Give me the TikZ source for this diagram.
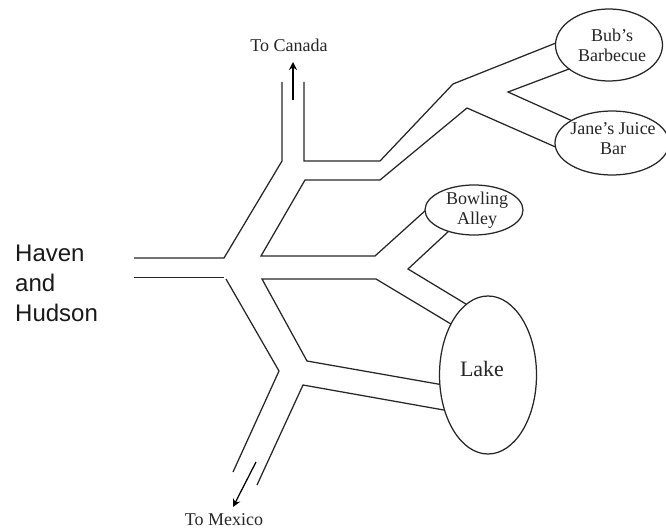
\documentclass[tikz,border=0pt]{standalone}
\usepackage{fontspec}
\setmainfont{Liberation Serif}
\newfontfamily\armain{Liberation Sans}
\usetikzlibrary{shapes.geometric,arrows.meta}
\tikzset{
  road/.style={draw=black!85,line width=1.25pt,line join=miter},
  place/.style={draw=black!85,line width=1.25pt,shape=ellipse,inner sep=0pt,outer sep=0pt},
  dirarrow/.style={draw=black,line width=1.25pt,-{Stealth[length=8pt,width=8pt]}},
  serifl/.style={font=\fontsize{18}{20}\selectfont,align=center,text=black!85,inner sep=0pt},
  havenl/.style={font=\armain\fontsize{24}{30}\selectfont,align=left,text=black!90,inner sep=0pt,anchor=west}
}
\begin{document}
\begin{tikzpicture}[x=1pt,y=-1pt]
\useasboundingbox (0,0) rectangle (666,529);
% places
\node[place,minimum width=107pt,minimum height=72pt] (bub) at (609,45) {};
\node[place,minimum width=114pt,minimum height=64pt] (jane) at (612,143) {};
\node[place,minimum width=98pt,minimum height=50pt] (bowl) at (474,210) {};
\node[place,minimum width=97pt,minimum height=158pt] (lake) at (488,375) {};
\node[serifl] (bubt) at (612,45) {Bub's\\Barbecue};
\node[serifl] (janet) at (613,139) {Jane's Juice\\Bar};
\node[serifl] (bowlt) at (477,210.5) {Bowling\\Alley};
\node[serifl,font=\fontsize{22}{24}\selectfont] (laket) at (482,369) {Lake};
\node[serifl] (canada) at (289,45) {To Canada};
\node[serifl] (mexico) at (224,519.5) {To Mexico};
\node[havenl] (haven) at (15,283) {Haven\\and\\Hudson};
% free ends and bends
\coordinate (nl) at (282,82);
\coordinate (nlb) at (282,161);
\coordinate (wt) at (224,258);
\coordinate (wte) at (134,258);
\coordinate (wb) at (224,277.5);
\coordinate (wbe) at (134,277.5);
\coordinate (nr) at (304,82);
\coordinate (nrb) at (304,161);
\coordinate (a1) at (380,161);
\coordinate (a2) at (453,84);
\coordinate (c1) at (508,92);
\coordinate (d1) at (467,108);
\coordinate (d2) at (380,180);
\coordinate (d3) at (305,180);
\coordinate (d4) at (261,256);
\coordinate (d5) at (375,256);
\coordinate (e1) at (408,269);
\coordinate (f1) at (262,279);
\coordinate (f2) at (376,279);
\coordinate (g1) at (307,361);
\coordinate (h1) at (303,385);
\coordinate (h2) at (257,485);
\coordinate (i1) at (226,279);
\coordinate (i2) at (279,371);
\coordinate (i3) at (233,472);
\coordinate (ar1) at (293,100);
\coordinate (ar2) at (293,62);
\coordinate (am1) at (256,462);
\coordinate (am2) at (233,507);
% roads
\draw[road] (wte) -- (wt) -- (nlb) -- (nl);
\draw[road] (wbe) -- (wb);
\draw[road] (nr) -- (nrb) -- (a1) -- (a2) -- (bub.178);
\draw[road] (bub.211) -- (c1) -- (jane.151);
\draw[road] (jane.184) -- (d1) -- (d2) -- (d3) -- (d4) -- (d5) -- (bowl.181);
\draw[road] (bowl.220) -- (e1) -- (lake.107);
\draw[road] (lake.126) -- (f2) -- (f1) -- (g1) -- (lake.191);
\draw[road] (lake.219) -- (h1) -- (h2);
\draw[road] (i1) -- (i2) -- (i3);
\draw[dirarrow] (ar1) -- (ar2);
\draw[dirarrow] (am1) -- (am2);
\end{tikzpicture}
\end{document}
